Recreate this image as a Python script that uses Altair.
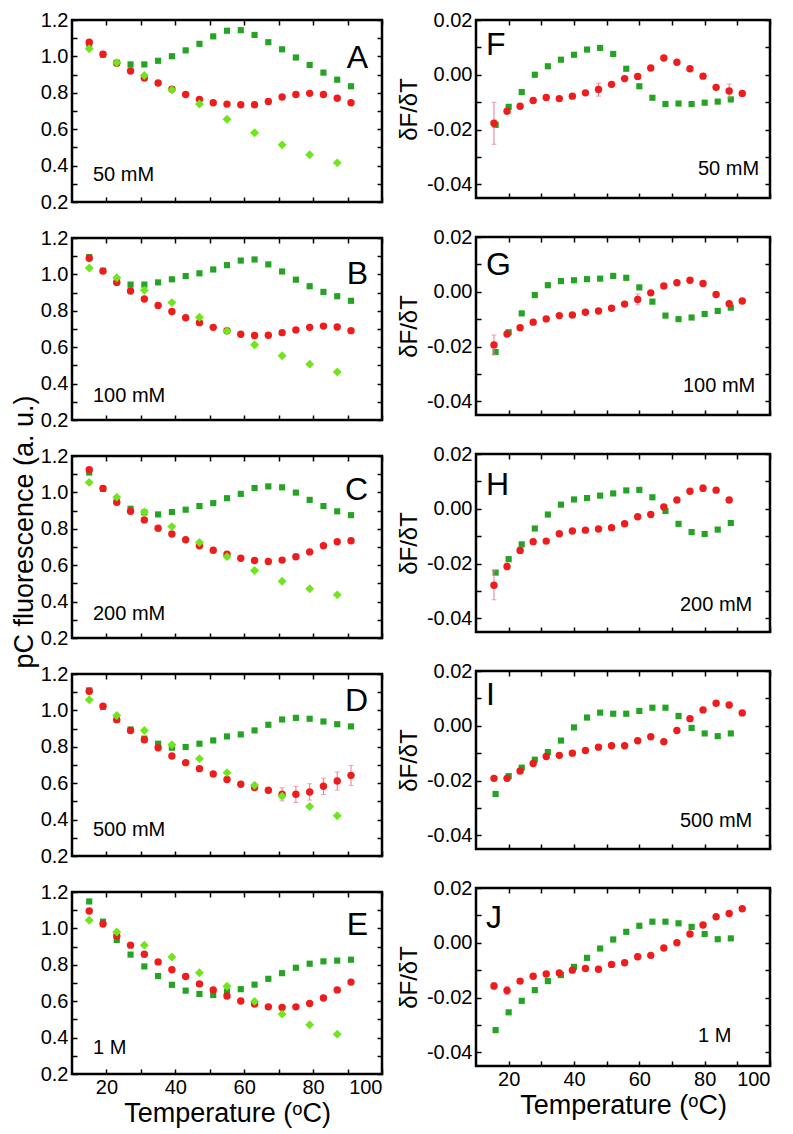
import altair as alt
import pandas as pd

FONT = "Liberation Sans"
RED = "#ee1d1d"
DGREEN = "#25a325"
LGREEN = "#6fe61c"
ERRC = "#e87a96"

# temperatures (degC)
T_LEFT = [15, 19, 23, 27, 31, 35, 39, 43, 47, 51, 55, 59, 63, 67, 71, 75, 79, 83, 87, 91]
T_DIAM = [15, 23, 31, 39, 47, 55, 63, 71, 79, 87]
T_RED_R = [15.5, 19.5, 23.5, 27.5, 31.5, 35.5, 39.5, 43.5, 47.5, 51.5, 55.5, 59.5, 63.5, 67.5, 71.5, 75.5, 79.5, 83.5, 87.5, 91.5]
T_SQ_R = [16, 20, 24, 28, 32, 36, 40, 44, 48, 52, 56, 60, 64, 68, 72, 76, 80, 84, 88]

# ---- left column: pC fluorescence ----
A_red = [1.078, 1.012, 0.962, 0.920, 0.881, 0.854, 0.820, 0.791, 0.764, 0.745, 0.738, 0.734, 0.734, 0.752, 0.777, 0.791, 0.797, 0.791, 0.770, 0.745]
A_sq = [1.070, 1.010, 0.965, 0.956, 0.956, 0.976, 1.001, 1.033, 1.069, 1.110, 1.141, 1.144, 1.118, 1.078, 1.039, 0.994, 0.953, 0.911, 0.872, 0.836]
A_di = [1.042, 0.965, 0.895, 0.816, 0.738, 0.655, 0.580, 0.514, 0.460, 0.415]

B_red = [1.089, 1.018, 0.956, 0.909, 0.865, 0.829, 0.796, 0.762, 0.735, 0.709, 0.690, 0.671, 0.664, 0.666, 0.680, 0.695, 0.709, 0.716, 0.711, 0.691]
B_sq = [1.095, 1.020, 0.960, 0.944, 0.944, 0.956, 0.973, 0.991, 1.006, 1.027, 1.051, 1.076, 1.082, 1.055, 1.016, 0.971, 0.935, 0.904, 0.880, 0.855]
B_di = [1.035, 0.982, 0.913, 0.845, 0.765, 0.689, 0.613, 0.553, 0.507, 0.464]

C_red = [1.124, 1.022, 0.946, 0.896, 0.849, 0.803, 0.771, 0.740, 0.707, 0.682, 0.660, 0.638, 0.626, 0.620, 0.628, 0.646, 0.673, 0.707, 0.729, 0.734]
C_sq = [1.109, 1.020, 0.950, 0.910, 0.890, 0.879, 0.892, 0.905, 0.925, 0.941, 0.968, 0.992, 1.024, 1.033, 1.028, 0.999, 0.959, 0.925, 0.896, 0.875]
C_di = [1.055, 0.974, 0.892, 0.812, 0.725, 0.647, 0.571, 0.512, 0.471, 0.437]

D_red = [1.105, 1.023, 0.948, 0.890, 0.839, 0.795, 0.749, 0.713, 0.680, 0.651, 0.620, 0.594, 0.576, 0.561, 0.539, 0.539, 0.552, 0.583, 0.612, 0.643]
D_err = [0, 0, 0, 0, 0, 0, 0, 0, 0, 0, 0, 0, 0, 0, 0.036, 0.045, 0.045, 0.045, 0.05, 0.055]
D_sq = [1.110, 1.020, 0.950, 0.895, 0.845, 0.817, 0.795, 0.799, 0.817, 0.835, 0.857, 0.868, 0.890, 0.921, 0.950, 0.959, 0.954, 0.939, 0.924, 0.912]
D_di = [1.059, 0.972, 0.890, 0.811, 0.735, 0.658, 0.589, 0.528, 0.472, 0.421]

E_red = [1.096, 1.024, 0.958, 0.908, 0.858, 0.816, 0.773, 0.736, 0.695, 0.662, 0.629, 0.601, 0.584, 0.569, 0.566, 0.569, 0.588, 0.618, 0.662, 0.705]
E_sq = [1.148, 1.037, 0.936, 0.856, 0.791, 0.738, 0.690, 0.658, 0.640, 0.634, 0.653, 0.666, 0.691, 0.723, 0.754, 0.784, 0.806, 0.819, 0.823, 0.828]
E_di = [1.045, 0.980, 0.908, 0.843, 0.756, 0.682, 0.599, 0.529, 0.470, 0.418]

# ---- right column: dF/dT ----
F_red = [-0.0177, -0.0133, -0.0115, -0.0094, -0.0083, -0.0087, -0.0078, -0.0066, -0.0054, -0.0035, -0.0014, -0.0006, 0.0025, 0.0061, 0.0046, 0.0022, -0.0005, -0.0046, -0.0059, -0.0068]
F_err = [0.0077, 0, 0, 0, 0, 0, 0, 0, 0.0024, 0, 0, 0, 0, 0, 0, 0, 0, 0, 0.0025, 0]
F_sq = [-0.0183, -0.0117, -0.0063, 0.0000, 0.0031, 0.0055, 0.0073, 0.0092, 0.0098, 0.0076, 0.0022, -0.0042, -0.0084, -0.0107, -0.0105, -0.0107, -0.0102, -0.0098, -0.0090]

G_red = [-0.0194, -0.0154, -0.0131, -0.0111, -0.0099, -0.0087, -0.0085, -0.0075, -0.0070, -0.0060, -0.0045, -0.0028, -0.0004, 0.0021, 0.0033, 0.0042, 0.0030, -0.0010, -0.0044, -0.0034]
G_err = [0.0036, 0, 0, 0, 0, 0, 0, 0, 0, 0, 0, 0.002, 0, 0, 0, 0, 0, 0, 0, 0]
G_sq = [-0.0220, -0.0148, -0.0079, -0.0012, 0.0024, 0.0039, 0.0042, 0.0046, 0.0048, 0.0058, 0.0051, 0.0016, -0.0036, -0.0087, -0.0100, -0.0094, -0.0081, -0.0070, -0.0058]

H_red = [-0.0279, -0.0211, -0.0152, -0.0120, -0.0118, -0.0091, -0.0081, -0.0078, -0.0074, -0.0069, -0.0055, -0.0029, -0.0021, 0.0007, 0.0032, 0.0064, 0.0075, 0.0068, 0.0032]
H_err = [0.0053, 0.0012, 0.0012, 0, 0, 0, 0, 0, 0, 0, 0, 0, 0, 0, 0, 0, 0.0012, 0, 0]
H_sq = [-0.0233, -0.0184, -0.0130, -0.0072, -0.0021, 0.0015, 0.0034, 0.0039, 0.0048, 0.0056, 0.0067, 0.0069, 0.0042, -0.0008, -0.0055, -0.0085, -0.0092, -0.0076, -0.0052]

I_red = [-0.0192, -0.0192, -0.0165, -0.0138, -0.0112, -0.0108, -0.0100, -0.0090, -0.0078, -0.0073, -0.0073, -0.0055, -0.0040, -0.0058, -0.0017, 0.0026, 0.0058, 0.0082, 0.0076, 0.0047]
I_err = [0] * 20
I_sq = [-0.0249, -0.0184, -0.0153, -0.0124, -0.0096, -0.0054, -0.0006, 0.0030, 0.0048, 0.0044, 0.0044, 0.0054, 0.0066, 0.0066, 0.0036, -0.0008, -0.0028, -0.0038, -0.0028]

J_red = [-0.0158, -0.0174, -0.0140, -0.0122, -0.0114, -0.0110, -0.0100, -0.0094, -0.0097, -0.0079, -0.0073, -0.0051, -0.0046, -0.0019, 0.0000, 0.0032, 0.0065, 0.0095, 0.0107, 0.0124]
J_err = [0.0012, 0.0015, 0, 0, 0, 0, 0, 0, 0, 0, 0, 0.001, 0, 0, 0, 0, 0, 0, 0, 0]
J_sq = [-0.0319, -0.0254, -0.0212, -0.0173, -0.0140, -0.0118, -0.0088, -0.0055, -0.0021, 0.0012, 0.0040, 0.0062, 0.0077, 0.0077, 0.0071, 0.0058, 0.0032, 0.0013, 0.0016]

LEFT_LETTERS = ["A", "B", "C", "D", "E"]
RIGHT_LETTERS = ["F", "G", "H", "I", "J"]
CONCS = ["50 mM", "100 mM", "200 mM", "500 mM", "1 M"]

LEFT_W, LEFT_H = 310, 182
RIGHT_W, RIGHT_H = 294, 178

XVALS = [20, 30, 40, 50, 60, 70, 80, 90, 100]
YL_VALS = [0.2, 0.3, 0.4, 0.5, 0.6, 0.7, 0.8, 0.9, 1.0, 1.1, 1.2]
YR_VALS = [-0.04, -0.03, -0.02, -0.01, 0.0, 0.01, 0.02]

TICKS = dict(tickSize=5, offset=-5, tickColor="black", tickWidth=1.5, domain=False, grid=False)
LBL = dict(labelFontSize=20, labelFont=FONT, labelColor="black")
XTITLE = "Temperature (\u1d52C)"


def ax_bottom(show):
    if show:
        return alt.Axis(orient="bottom", values=XVALS, labels=True,
                        labelExpr="datum.value % 20 == 0 ? datum.label : ''",
                        labelPadding=3, title=XTITLE, titleFontSize=27, titleFont=FONT,
                        titleFontWeight="normal", titleColor="black", titlePadding=3,
                        **LBL, **TICKS)
    return alt.Axis(orient="bottom", values=XVALS, labels=False, title=None, **TICKS)


def ax_top():
    return alt.Axis(orient="top", values=XVALS, labels=False, title=None, **TICKS)


def ax_left_l():
    return alt.Axis(orient="left", values=YL_VALS, labelPadding=4,
                    labelExpr="round(datum.value*10) % 2 == 0 ? format(datum.value, '.1f') : ''",
                    title=None, **LBL, **TICKS)


def ax_left_r():
    return alt.Axis(orient="left", values=YR_VALS, labelPadding=4,
                    labelExpr="round(datum.value*100) % 2 == 0 ? replace(format(datum.value, '.2f'), '\u2212', '-') : ''",
                    title="\u03b4F/\u03b4T", titleFontSize=24, titleFont=FONT, titleFontWeight="normal",
                    titleColor="black", titlePadding=5, **LBL, **TICKS)


def ax_right(vals):
    return alt.Axis(orient="right", values=vals, labels=False, title=None, **TICKS)


XSCALE = alt.Scale(domain=[10, 100], nice=False, zero=False)


def text_layer(txt, x, y, size, align):
    df = pd.DataFrame({"t": [txt]})
    return alt.Chart(df).mark_text(align=align, baseline="middle", fontSize=size, font=FONT,
                                   color="black").encode(x=alt.value(x), y=alt.value(y), text="t:N")


def panel(t_red, red, err, t_sq, sq, t_di, di, ydom, yaxis_main, yvals, bottom,
          letter, letter_x, letter_y, letter_align, conc, conc_x, conc_y, w, h):
    ysc = alt.Scale(domain=ydom, nice=False, zero=False)
    df_sq = pd.DataFrame({"T": t_sq, "v": sq})
    df_red = pd.DataFrame({"T": t_red, "v": red})
    rows = [(t, v, e) for t, v, e in zip(t_red, red, err) if e > 0]
    df_err = pd.DataFrame({"T": [r[0] for r in rows],
                           "lo": [r[1] - r[2] for r in rows],
                           "hi": [r[1] + r[2] for r in rows]})
    layers = []
    layers.append(alt.Chart(df_sq).mark_square(size=38, color=DGREEN, opacity=1).encode(
        x=alt.X("T:Q", scale=XSCALE, axis=ax_bottom(bottom)),
        y=alt.Y("v:Q", scale=ysc, axis=yaxis_main)))
    if len(rows):
        layers.append(alt.Chart(df_err).mark_rule(color=ERRC, strokeWidth=1).encode(
            x=alt.X("T:Q", scale=XSCALE, axis=None),
            y=alt.Y("lo:Q", scale=ysc, axis=None), y2="hi:Q"))
        for col in ["lo", "hi"]:
            layers.append(alt.Chart(df_err).mark_tick(color=ERRC, orient="horizontal", size=5,
                                                      thickness=1).encode(
                x=alt.X("T:Q", scale=XSCALE, axis=None),
                y=alt.Y(f"{col}:Q", scale=ysc, axis=None)))
    layers.append(alt.Chart(df_red).mark_circle(size=55, color=RED, opacity=1).encode(
        x=alt.X("T:Q", scale=XSCALE, axis=ax_top()),
        y=alt.Y("v:Q", scale=ysc, axis=ax_right(yvals))))
    if di is not None:
        df_di = pd.DataFrame({"T": t_di, "v": di})
        layers.append(alt.Chart(df_di).mark_point(shape="diamond", filled=True, size=80,
                                                  color=LGREEN, opacity=1).encode(
            x=alt.X("T:Q", scale=XSCALE, axis=None),
            y=alt.Y("v:Q", scale=ysc, axis=None)))
    layers.append(text_layer(letter, letter_x, letter_y, 32, letter_align))
    layers.append(text_layer(conc, conc_x, conc_y, 20, "left"))
    return alt.layer(*layers).resolve_axis(x="independent", y="independent").properties(
        width=w, height=h)


left_data = [(A_red, A_sq, A_di, [0] * 20), (B_red, B_sq, B_di, [0] * 20),
             (C_red, C_sq, C_di, [0] * 20), (D_red, D_sq, D_di, D_err),
             (E_red, E_sq, E_di, [0] * 20)]
left_letter_y = [38, 36, 34, 27, 33]
left_conc_y = [27, 24, 24, 26, 26]

right_data = [(F_red, F_sq, F_err), (G_red, G_sq, G_err), (H_red, H_sq, H_err),
              (I_red, I_sq, I_err), (J_red, J_sq, J_err)]
right_letter_y = [25, 28, 31, 24, 30]
right_conc_y = [29, 29, 27, 28, 30]
right_conc_x = [222, 207, 204, 204, 222]

left_panels = []
for i, (red, sq, di, err) in enumerate(left_data):
    left_panels.append(panel(T_LEFT, red, err, T_LEFT, sq, T_DIAM, di, [0.2, 1.2], ax_left_l(),
                             YL_VALS, i == 4, LEFT_LETTERS[i], LEFT_W - 14, left_letter_y[i], "right",
                             CONCS[i], 21, LEFT_H - left_conc_y[i], LEFT_W, LEFT_H))

right_panels = []
for i, (red, sq, err) in enumerate(right_data):
    right_panels.append(panel(T_RED_R[:len(red)], red, err, T_SQ_R, sq, None, None, [-0.045, 0.02],
                              ax_left_r(), YR_VALS, i == 4, RIGHT_LETTERS[i], 10, right_letter_y[i],
                              "left", CONCS[i], right_conc_x[i], RIGHT_H - right_conc_y[i],
                              RIGHT_W, RIGHT_H))

left_col = alt.vconcat(*left_panels, spacing=12).properties(
    title=alt.TitleParams("pC fluorescence (a. u.)", orient="left", anchor="middle", fontSize=27,
                          font=FONT, fontWeight="normal", color="black", offset=0, dx=36))
right_col = alt.vconcat(*right_panels, spacing=25)

chart = alt.hconcat(left_col, right_col, spacing=12).properties(
    padding={"left": 2, "top": 0, "right": 0, "bottom": 0}
).configure(font=FONT).configure_view(stroke="black", strokeWidth=2.5)

chart.save("out.html", embed_options={"renderer": "svg", "actions": False})
